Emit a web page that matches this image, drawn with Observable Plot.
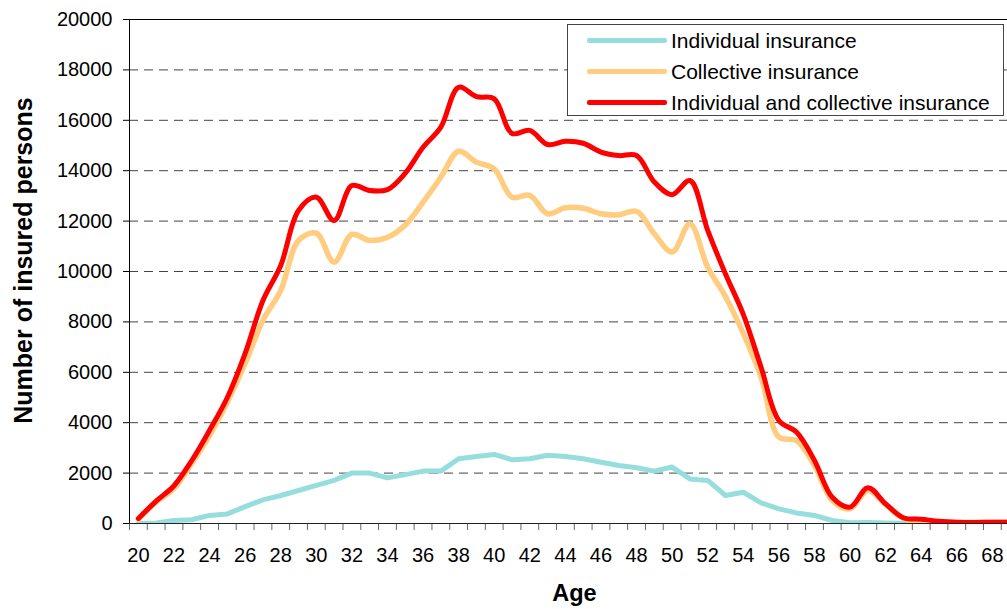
<!DOCTYPE html>
<html>
<head>
<meta charset="utf-8">
<script src="https://cdn.jsdelivr.net/npm/d3@7"></script>
<script src="https://cdn.jsdelivr.net/npm/@observablehq/plot@0.6"></script>
<style>
  html, body { margin: 0; padding: 0; background: #fff; }
  #wrap { position: relative; width: 1007px; height: 609px; font-family: "Liberation Sans", Arial, sans-serif; }
  #legend { position: absolute; left: 567px; top: 24px; width: 437px; height: 92px; border: 1px solid #444; background: #fff; box-sizing: border-box; }
  .row { position: absolute; left: 0; height: 31px; display: flex; align-items: center; font-size: 21px; color: #000; white-space: nowrap; }
  .sw { width: 80px; height: 5px; margin-left: 19px; margin-right: 4px; border-radius: 2px; }
</style>
</head>
<body>
<div id="wrap"><div id="chart"></div><div id="legend"></div></div>
<script>
// ---- data ----
const ages = [20,21,22,23,24,25,26,27,28,29,30,31,32,33,34,35,36,37,38,39,40,41,42,43,44,45,46,47,48,49,50,51,52,53,54,55,56,57,58,59,60,61,62,63,64,65,66,67,68,69];
const individual = [0,20,120,150,320,380,670,940,1110,1310,1510,1710,2000,2000,1810,1940,2080,2080,2570,2660,2740,2530,2570,2710,2660,2570,2430,2300,2210,2080,2240,1770,1710,1110,1240,820,580,420,320,120,30,40,20,10,0,0,0,0,0,0];
const collective = [180,850,1390,2380,3490,4810,6350,8060,9250,11230,11520,10370,11470,11230,11360,11850,12750,13740,14770,14340,14070,12950,13020,12290,12530,12510,12290,12250,12390,11500,10770,11890,10170,9000,7540,5800,3430,3290,2300,910,580,1310,760,200,100,60,40,40,50,50];
const total = [200,890,1500,2500,3700,5000,6750,8850,10240,12420,12950,12020,13410,13210,13250,13900,14930,15730,17310,16940,16850,15480,15600,15040,15170,15090,14740,14600,14600,13550,13050,13610,11630,9900,8300,6200,4090,3620,2500,1040,650,1420,780,230,170,90,50,40,50,50];
const seriesNames = ["Individual insurance", "Collective insurance", "Individual and collective insurance"];
const seriesColors = ["#96dede", "#ffcc80", "#ff0000"];
const yTicks = [0,2000,4000,6000,8000,10000,12000,14000,16000,18000,20000];
const xLabelTicks = [20,22,24,26,28,30,32,34,36,38,40,42,44,46,48,50,52,54,56,58,60,62,64,66,68];
const xTitle = "Age";
const yTitle = "Number of insured persons";

// ---- build ----
const xDomain = [19.5, 68.85];
const yDomain = [0, 20000];
const xHalfTicks = d3.range(19.5, 69, 1);
const gridTicks = yTicks.filter(v => v > yDomain[0] && v < yDomain[1]);
const rows = (vals) => ages.map((a, i) => ({age: a, value: vals[i]}));
const series = [individual, collective, total];
const curves = ["linear", "catmull-rom", "catmull-rom"];

const lineMarks = series.map((vals, i) =>
  Plot.line(rows(vals), {x: "age", y: "value", stroke: seriesColors[i], strokeWidth: i === 1 ? 5.5 : 5, curve: curves[i], clip: true})
);

const chart = Plot.plot({
  width: 1007,
  height: 609,
  marginLeft: 129,
  marginRight: 0,
  marginTop: 19,
  marginBottom: 86,
  x: {domain: xDomain},
  y: {domain: yDomain},
  style: {fontFamily: '"Liberation Sans", Arial, sans-serif', fontSize: "20px", color: "#000", background: "#fff", overflow: "visible"},
  marks: [
    Plot.gridY(gridTicks, {stroke: "#444", strokeOpacity: 1, strokeDasharray: "9,6"}),
    Plot.ruleY([yDomain[1]], {stroke: "#000"}),
    Plot.axisX({ticks: xHalfTicks, tickSize: 7, tickFormat: () => "", label: null, stroke: "#666"}),
    Plot.axisX({ticks: xLabelTicks, tickSize: 0, tickPadding: 24, label: null, fontSize: 20, tickFormat: "d"}),
    Plot.axisY({ticks: yTicks, tickSize: 6, tickPadding: 11, label: null, fontSize: 20, tickFormat: "d"}),
    Plot.ruleY([yDomain[0]], {stroke: "#222"}),
    Plot.ruleX([xDomain[0]], {stroke: "#000"}),
    ...lineMarks,
    Plot.text([yTitle], {frameAnchor: "left", dx: -106, dy: -11, rotate: -90, textAnchor: "middle", fontWeight: "bold", fontSize: 25, lineAnchor: "middle"}),
    Plot.text([xTitle], {frameAnchor: "bottom", dx: 6, dy: 69.5, textAnchor: "middle", fontWeight: "bold", fontSize: 23.5, lineAnchor: "middle"})
  ]
});
document.getElementById("chart").appendChild(chart);

// legend
const legend = document.getElementById("legend");
seriesNames.forEach((name, i) => {
  const row = document.createElement("div");
  row.className = "row";
  row.style.top = (i * 31) + "px";
  const sw = document.createElement("div");
  sw.className = "sw";
  sw.style.background = seriesColors[i];
  const t = document.createElement("span");
  t.textContent = name;
  row.appendChild(sw);
  row.appendChild(t);
  legend.appendChild(row);
});
</script>
</body>
</html>
